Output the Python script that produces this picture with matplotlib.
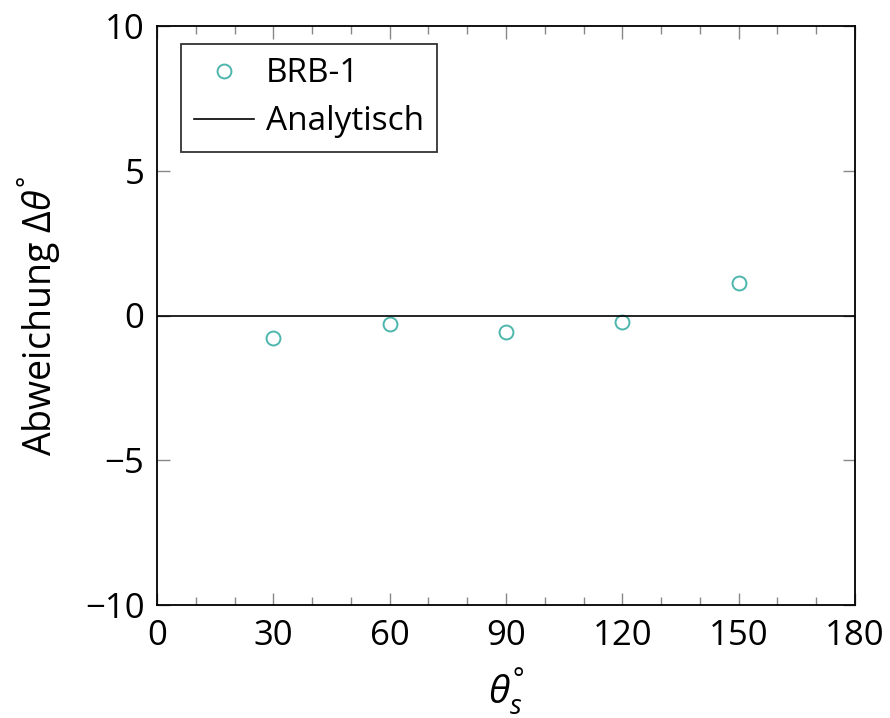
import matplotlib
matplotlib.use("Agg")
import matplotlib.pyplot as plt
from matplotlib.ticker import MultipleLocator

plt.rcParams['font.family'] = ['Open Sans', 'DejaVu Sans']
plt.rcParams['mathtext.fontset'] = 'custom'
plt.rcParams['mathtext.rm'] = 'Open Sans'
plt.rcParams['mathtext.it'] = 'Open Sans:italic'

theta_s = [30, 60, 90, 120, 150]
deviation = [-0.78, -0.28, -0.57, -0.22, 1.13]
analytic_x = [0, 180]
analytic_y = [0, 0]
xticks = [0, 30, 60, 90, 120, 150, 180]
yticks = [-10, -5, 0, 5, 10]
yticklabels = ['\u221210', '\u22125', '0', '5', '10']

fig = plt.figure(figsize=(8.9, 7.18), dpi=100)
ax = fig.add_axes([157/890, 1-605/718, (855-157)/890, (605-26)/718])

ax.plot(theta_s, deviation, linestyle='none', marker='o', markersize=10,
        markerfacecolor='none', markeredgecolor='#4db6ac', markeredgewidth=1.4,
        label='BRB-1')
ax.plot(analytic_x, analytic_y, color='black', linewidth=1.2, label='Analytisch')

ax.set_xlim(0, 180)
ax.set_ylim(-10, 10)
ax.set_xticks(xticks)
ax.set_yticks(yticks)
ax.set_yticklabels(yticklabels)
ax.xaxis.set_minor_locator(MultipleLocator(10))
ax.tick_params(which='both', direction='in', top=True, right=True,
               labelsize=25, color='#888888', width=1.0)
ax.tick_params(axis='x', pad=10)
ax.tick_params(axis='y', pad=9)
ax.tick_params(which='major', length=9)
ax.tick_params(which='minor', length=6)
for s in ax.spines.values():
    s.set_linewidth(1.3)

ax.set_xlabel('$\\theta_s^{\u00b0}$', fontsize=28, labelpad=10)
ax.set_ylabel('Abweichung $\\Delta\\theta^{\u00b0}$', fontsize=27, labelpad=16)

leg = ax.legend(loc='upper left', bbox_to_anchor=(0.034, 0.969), fontsize=24,
                frameon=True, fancybox=False, edgecolor='black',
                handlelength=1.8, handletextpad=0.35, borderpad=0.4,
                labelspacing=0.45, borderaxespad=0)
leg.get_frame().set_linewidth(1.3)

fig.savefig('out.png', dpi=100)
